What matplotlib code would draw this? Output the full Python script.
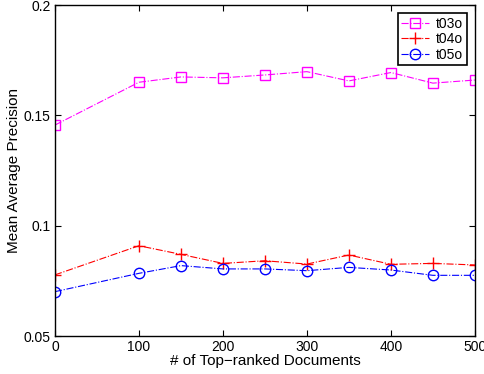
import matplotlib
matplotlib.use('Agg')
import matplotlib.pyplot as plt

# data
docs = [0, 100, 150, 200, 250, 300, 350, 400, 450, 500]
t03o = [0.1456, 0.1650, 0.1674, 0.1670, 0.1683, 0.1698, 0.1656, 0.1694, 0.1646, 0.1660]
t04o = [0.0777, 0.0909, 0.0870, 0.0829, 0.0841, 0.0826, 0.0867, 0.0825, 0.0829, 0.0822]
t05o = [0.0701, 0.0784, 0.0819, 0.0804, 0.0804, 0.0796, 0.0811, 0.0799, 0.0775, 0.0775]

plt.rcParams['font.family'] = 'Liberation Sans'
plt.rcParams['font.size'] = 10

fig = plt.figure(figsize=(4.84, 3.74), dpi=100)
ax = fig.add_axes([0.1136, 0.1016, 0.8675, 0.885])

ax.plot(docs, t03o, linestyle='-.', color='magenta', marker='s', markersize=6.5,
        markerfacecolor='none', linewidth=0.8, label='t03o')
ax.plot(docs, t04o, linestyle='-.', color='red', marker='+', markersize=9,
        linewidth=0.8, label='t04o')
ax.plot(docs, t05o, linestyle='-.', color='blue', marker='o', markersize=7.5,
        markerfacecolor='none', linewidth=0.8, label='t05o')

ax.set_xlim(0, 500)
ax.set_ylim(0.05, 0.2)
ax.set_xticks([0, 100, 200, 300, 400, 500])
ax.set_yticks([0.05, 0.1, 0.15, 0.2])
ax.set_yticklabels(['0.05', '0.1', '0.15', '0.2'])
ax.tick_params(direction='in', top=True, right=True, length=4, pad=3,
               labelsize=10)
for s in ax.spines.values():
    s.set_linewidth(1.0)

ax.set_xlabel('# of Top\u2212ranked Documents', fontsize=11, labelpad=0)
ax.set_ylabel('Mean Average Precision', fontsize=11, labelpad=2)

leg = ax.legend(loc='upper right', fancybox=False, edgecolor='black',
                framealpha=1, borderaxespad=0.6, handlelength=2.0,
                labelspacing=0.1, borderpad=0.25, handletextpad=0.5)
leg.get_frame().set_linewidth(1.2)

fig.savefig('out.png', dpi=100)
